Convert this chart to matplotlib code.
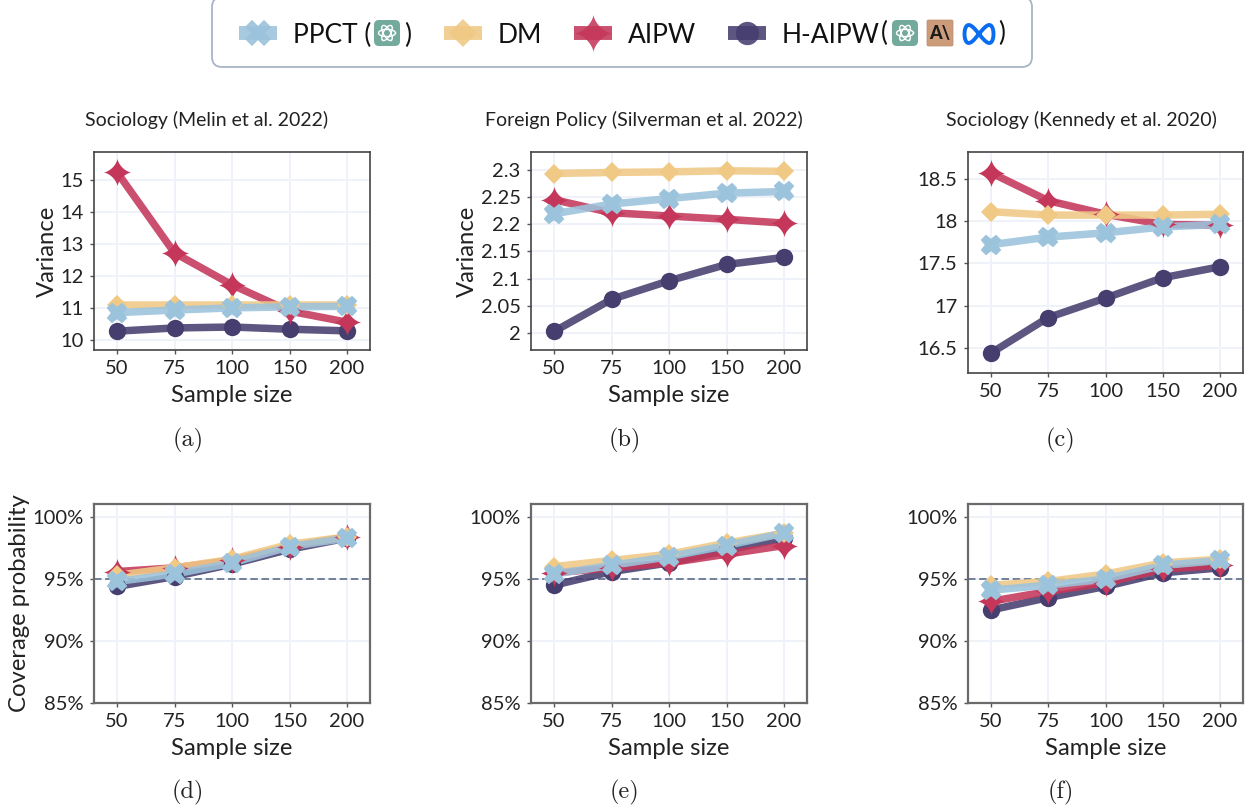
import numpy as np
import matplotlib
matplotlib.use("Agg")
import matplotlib.pyplot as plt
from matplotlib.lines import Line2D
from matplotlib.path import Path
from matplotlib.patches import FancyBboxPatch

W, H = 1252, 810
plt.rcParams['font.family'] = ['Lato', 'DejaVu Sans']

sizes = ['50', '75', '100', '150', '200']
titles = ['Sociology (Melin et al. 2022)', 'Foreign Policy (Silverman et al. 2022)',
          'Sociology (Kennedy et al. 2020)']
sublabels = ['(a)', '(b)', '(c)', '(d)', '(e)', '(f)']

# Variance panels
a_ppct = [10.85, 10.93, 11.00, 11.03, 11.05]
a_dm = [11.08, 11.08, 11.08, 11.08, 11.08]
a_aipw = [15.25, 12.72, 11.72, 10.90, 10.55]
a_haipw = [10.27, 10.37, 10.40, 10.33, 10.28]

b_ppct = [2.219, 2.237, 2.247, 2.257, 2.260]
b_dm = [2.293, 2.295, 2.296, 2.298, 2.297]
b_aipw = [2.245, 2.221, 2.215, 2.209, 2.202]
b_haipw = [2.003, 2.062, 2.096, 2.126, 2.139]

c_ppct = [17.72, 17.81, 17.86, 17.93, 17.96]
c_dm = [18.11, 18.07, 18.07, 18.07, 18.08]
c_aipw = [18.57, 18.24, 18.08, 17.96, 17.95]
c_haipw = [16.44, 16.86, 17.09, 17.33, 17.46]

# Coverage panels
d_ppct = [94.8, 95.4, 96.3, 97.6, 98.3]
d_dm = [95.3, 95.9, 96.6, 97.8, 98.4]
d_aipw = [95.6, 95.9, 96.5, 97.6, 98.4]
d_haipw = [94.4, 95.2, 96.2, 97.4, 98.3]

e_ppct = [95.4, 96.1, 96.8, 97.7, 98.7]
e_dm = [96.0, 96.5, 97.0, 97.9, 98.7]
e_aipw = [95.5, 95.9, 96.3, 97.0, 97.7]
e_haipw = [94.5, 95.6, 96.3, 97.3, 98.3]

f_ppct = [94.1, 94.5, 95.0, 96.1, 96.5]
f_dm = [94.5, 94.8, 95.4, 96.3, 96.6]
f_aipw = [93.2, 94.0, 94.7, 95.8, 96.1]
f_haipw = [92.5, 93.5, 94.4, 95.5, 95.9]

a_ticks = [10, 11, 12, 13, 14, 15]
b_ticks = [2, 2.05, 2.1, 2.15, 2.2, 2.25, 2.3]
c_ticks = [16.5, 17, 17.5, 18, 18.5]
cov_ticks = [85, 90, 95, 100]

BLUE, YEL, RED, PUR = '#9CC3DC', '#F0C985', '#C4375A', '#453E6E'

# four-pointed star marker
t = np.linspace(0, 2 * np.pi, 73)
STAR = Path(np.column_stack([np.sign(np.cos(t)) * np.abs(np.cos(t)) ** 3.0,
                             np.sign(np.sin(t)) * np.abs(np.sin(t)) ** 3.0]))
STYLE = {'haipw': (PUR, 'o', 12.5, 0), 'aipw': (RED, STAR, 20, 0),
         'dm': (YEL, 'D', 10.5, 0), 'ppct': (BLUE, 'X', 13.5, 1.4)}


def px_axes(fig, l, r, t, b):
    return fig.add_axes([l / W, 1 - b / H, (r - l) / W, (b - t) / H])


fig = plt.figure(figsize=(W / 100, H / 100), dpi=100)

panels = [
    dict(box=(94, 370, 152, 350), ylim=(9.68, 15.88), ticks=a_ticks, lab=[str(v) for v in a_ticks],
         data=(a_haipw, a_aipw, a_dm, a_ppct), title=titles[0], tx=207, yl='Variance', ylx=47, xl=True, sub=188, suby=440),
    dict(box=(531, 807, 152, 350), ylim=(1.969, 2.3325), ticks=b_ticks, lab=['2', '2.05', '2.1', '2.15', '2.2', '2.25', '2.3'],
         data=(b_haipw, b_aipw, b_dm, b_ppct), title=titles[1], tx=644, yl='Variance', ylx=467, xl=True, sub=625, suby=440),
    dict(box=(968, 1243, 152, 373), ylim=(16.205, 18.815), ticks=c_ticks, lab=['16.5', '17', '17.5', '18', '18.5'],
         data=(c_haipw, c_aipw, c_dm, c_ppct), title=titles[2], tx=1081, yl=None, xl=False, sub=1061, suby=440),
    dict(box=(94, 370, 504, 703), ylim=(85, 101.05), ticks=cov_ticks, lab=[f'{v}%' for v in cov_ticks],
         data=(d_haipw, d_aipw, d_dm, d_ppct), yl='Coverage probability', ylx=20, xl=True, sub=188, suby=792, hl=True),
    dict(box=(531, 807, 504, 703), ylim=(85, 101.05), ticks=cov_ticks, lab=[f'{v}%' for v in cov_ticks],
         data=(e_haipw, e_aipw, e_dm, e_ppct), yl=None, xl=True, sub=625, suby=792, hl=True),
    dict(box=(968, 1243, 504, 703), ylim=(85, 101.05), ticks=cov_ticks, lab=[f'{v}%' for v in cov_ticks],
         data=(f_haipw, f_aipw, f_dm, f_ppct), yl=None, xl=True, sub=1061, suby=792, hl=True),
]

x = np.arange(len(sizes))
for i, p in enumerate(panels):
    l, r, tp, b = p['box']
    ax = px_axes(fig, l, r, tp, b)
    ax.set_xlim(-0.4, 4.4)
    ax.set_ylim(*p['ylim'])
    ax.set_axisbelow(True)
    ax.grid(True, color='#F0F2FA', lw=1.4)
    if p.get('hl'):
        ax.axhline(95, color='#5C6C88', lw=1.2, dashes=(4.5, 2.2), zorder=1.5)
    for name, vals in zip(('haipw', 'aipw', 'dm', 'ppct'), p['data']):
        col, mk, ms, mew = STYLE[name]
        ax.plot(x, vals, color=col, lw=5.4, alpha=0.88, solid_joinstyle='round', solid_capstyle='butt', zorder=2)
        ax.plot(x, vals, ls='none', color=col, marker=mk, ms=ms, mew=mew, mec=col, zorder=2.1)
    ax.set_xticks(x, sizes)
    ax.set_yticks(p['ticks'], p['lab'])
    ax.tick_params(labelsize=14.5, labelcolor='#222222', length=3, width=1, color='#555555', pad=4.5)
    for s in ax.spines.values():
        s.set_color('#444444' if i < 3 else '#6A6A6A')
        s.set_linewidth(1.2 if i < 3 else 1.6)
    if p['xl']:
        ax.set_xlabel('Sample size', fontsize=17.2, color='#222222', labelpad=5.5)
    if p['yl']:
        ax.set_ylabel(p['yl'], fontsize=17.2, color='#222222', va='center')
        ax.yaxis.set_label_coords((p['ylx'] - l) / (r - l), 0.5)
    if 'title' in p:
        ax.set_title(p['title'], x=(p['tx'] - l) / (r - l), fontsize=14, color='#222222', pad=19)
    fig.text(p['sub'] / W, 1 - p['suby'] / H, sublabels[i], family='cmr10', fontsize=17.5,
             ha='center', va='center', color='#222222')

# legend background
bg = fig.add_axes([0, 0, 1, 1], facecolor='none', zorder=1)
bg.set_xlim(0, W)
bg.set_ylim(H, 0)
bg.axis('off')
bg.add_patch(FancyBboxPatch((222, 7), 800, 50, boxstyle='round,pad=10,rounding_size=10',
                            fc='white', ec='#AAB4C8', lw=1.3, clip_on=False))

# legend
handles = [Line2D([], [], color=c, lw=10, alpha=0.88, solid_capstyle='butt', marker=m, ms=s, mew=w, mec=c, markerfacecolor=c)
           for c, m, s, w in [(BLUE, 'X', 17, 1.2), (YEL, 'D', 13.8, 0), (RED, STAR, 27, 0), (PUR, 'o', 16.8, 0)]]
labels = ['PPCT (     )', 'DM', 'AIPW', 'H-AIPW']
leg = fig.legend(handles, labels, ncol=4, loc='center left', bbox_to_anchor=(239 / W, 1 - 35 / H),
                 bbox_transform=fig.transFigure, fontsize=19, frameon=False, borderaxespad=0, borderpad=0,
                 handlelength=1.45, handletextpad=0.6, columnspacing=1.2,
                 labelcolor='#111111', numpoints=1)
leg.set_zorder(5)

# logo glyphs in the legend, in a pixel-coordinate overlay
ov = fig.add_axes([0, 0, 1, 1], facecolor='none', zorder=10)
ov.set_xlim(0, W)
ov.set_ylim(H, 0)
ov.axis('off')


def openai(cx, cy, w=26, h=26):
    ov.add_patch(FancyBboxPatch((cx - w / 2 + 4, cy - h / 2 + 4), w - 8, h - 8,
                                boxstyle='round,pad=4,rounding_size=5', fc='#74AA9C', ec='none'))
    for ang in (0, 60, 120):
        th = np.linspace(0, 2 * np.pi, 40)
        a, b = 8.5, 3.6
        ex, ey = a * np.cos(th), b * np.sin(th)
        ca, sa = np.cos(np.radians(ang)), np.sin(np.radians(ang))
        ov.plot(cx + ex * ca - ey * sa, cy + ex * sa + ey * ca, color='white', lw=1.0)


def anthropic(cx, cy, w=26, h=26):
    ov.add_patch(FancyBboxPatch((cx - w / 2 + 1, cy - h / 2 + 1), w - 2, h - 2,
                                boxstyle='round,pad=1,rounding_size=1.5', fc='#CC9B7A', ec='#B98A6B', lw=0.5))
    ov.text(cx, cy, 'A\\', fontsize=13, fontweight='black', color='#1A1A1A', ha='center', va='center')


def meta(cx, cy, w=32, h=21):
    th = np.linspace(0, 2 * np.pi, 160)
    ov.plot(cx + (w - 3) / 2 * np.sin(th), cy + (h - 3) / 2 * np.sin(2 * th), color='#0A6CF0', lw=2.8)


openai(387, 33)
openai(905, 33)
anthropic(940, 33)
meta(979, 34)
ov.text(881, 33, '(', fontsize=19, color='#111111', ha='left', va='center')
ov.text(998, 33, ')', fontsize=19, color='#111111', ha='left', va='center')

fig.savefig('out.png', dpi=100)
